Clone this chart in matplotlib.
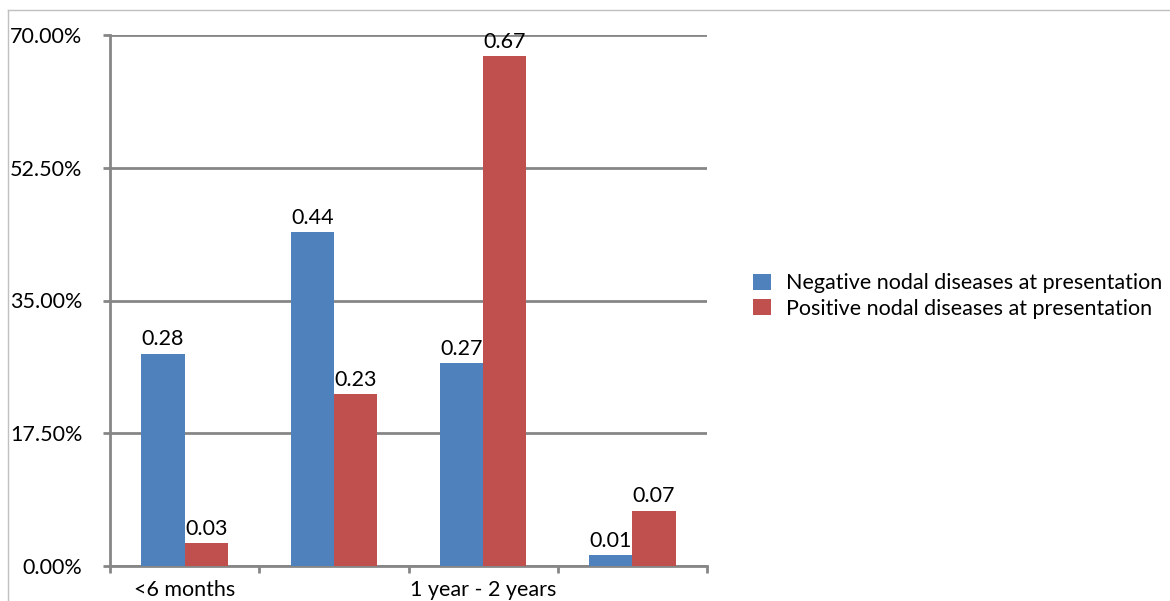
import matplotlib.pyplot as plt
import numpy as np
from matplotlib.lines import Line2D
from matplotlib.ticker import PercentFormatter

plt.rcParams['font.family'] = ['Lato', 'DejaVu Sans']

categories = ['<6 months', '6 months - 1 year', '1 year - 2 years', '>2 years']
tick_labels = ['<6 months', '', '1 year - 2 years', '']
negative = [0.28, 0.44, 0.267, 0.014]
positive = [0.03, 0.227, 0.672, 0.073]
series_names = ['Negative nodal diseases at presentation',
                'Positive nodal diseases at presentation']
colors = ['#4f81bd', '#c0504d']
grid_color = '#868686'
fs = 15.5

fig = plt.figure(figsize=(11.7, 6.01), dpi=100)
ax = fig.add_axes([110 / 1170, 35 / 601, 597 / 1170, 531 / 601])

x = np.arange(len(categories))
w = 0.29
b1 = ax.bar(x - w / 2, negative, w, color=colors[0], label=series_names[0], zorder=3)
b2 = ax.bar(x + w / 2, positive, w, color=colors[1], label=series_names[1], zorder=3)
ax.bar_label(b1, fmt='%.2f', padding=3, fontsize=fs)
ax.bar_label(b2, fmt='%.2f', padding=3, fontsize=fs)

ax.set_xlim(-0.5, len(categories) - 0.5)
ax.set_ylim(0, 0.70)
ax.set_yticks([0, 0.175, 0.35, 0.525, 0.70])
ax.yaxis.set_major_formatter(PercentFormatter(1.0, decimals=2))
ax.grid(axis='y', color=grid_color, linewidth=2, zorder=0)

# category ticks between groups, labels centred under groups
ax.set_xticks(np.arange(len(categories) + 1) - 0.5)
ax.set_xticklabels([])
ax.set_xticks(x, minor=True)
ax.set_xticklabels(tick_labels, minor=True, fontsize=fs)
ax.tick_params(axis='x', which='minor', length=0, pad=10)
ax.tick_params(axis='x', which='major', length=5, width=2, color=grid_color)
ax.tick_params(axis='y', length=5, width=2, color=grid_color, labelsize=fs, pad=15)

for s in ['top', 'right']:
    ax.spines[s].set_visible(False)
for s in ['left', 'bottom']:
    ax.spines[s].set_color(grid_color)
    ax.spines[s].set_linewidth(2)

# light outer frame of the chart area
fig.add_artist(Line2D([8 / 1170, 1], [1 - 10 / 601, 1 - 10 / 601], color='#c0c0c0', lw=1))
fig.add_artist(Line2D([8 / 1170, 8 / 1170], [0, 1 - 10 / 601], color='#c0c0c0', lw=1))

fig.legend(handles=[b1, b2], loc='center left', bbox_to_anchor=(734 / 1170, 1 - 296 / 601),
           frameon=False, fontsize=fs, handlelength=0.8, handleheight=0.8,
           handletextpad=0.7, labelspacing=0.25)

fig.savefig('out.png', dpi=100)
